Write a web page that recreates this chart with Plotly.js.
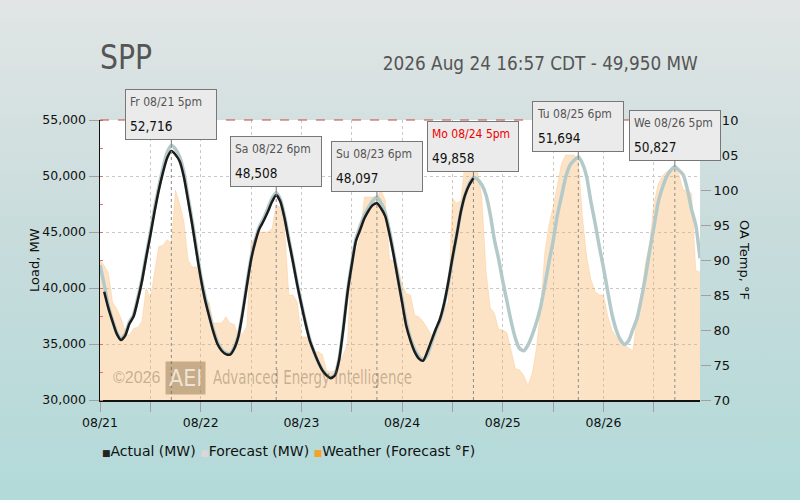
<!DOCTYPE html>
<html>
<head>
<meta charset="utf-8">
<script src="https://cdn.plot.ly/plotly-3.0.1.min.js"></script>
<style>
html,body{margin:0;padding:0;}
body{width:800px;height:500px;background:linear-gradient(to bottom,#e1e5e5 0%,#c9dcdc 45%,#b2dad9 100%);}
#chart{width:800px;height:500px;}
</style>
</head>
<body>
<div id="chart"></div>
<script>
// ---- data (hourly, starting 2026-08-21 00:00) ----
const startHourActual = 1;
const forecastMW = [
42050,40300,38400,37100,36000,35450,35900,36950,37600,39100,
40800,42900,44900,47100,49000,50700,52100,52716,52400,51700,
50300,48100,45900,43500,41100,39300,37700,36300,35200,34500,
34200,34150,34700,35800,37900,40400,42700,44300,45500,46200,
47100,48000,48508,47900,46400,44400,42400,40400,38600,36900,
35400,34300,33400,32700,32250,32000,32300,33700,36500,39700,
42200,44400,45500,46500,47200,47800,48097,47600,46700,45100,
43100,41000,39000,36900,35500,34500,33900,33600,34000,35100,
36200,37100,38500,40400,42600,44700,46800,48300,49300,49858,
49700,49200,48300,46600,44300,42600,40600,38800,37000,35500,
34600,34400,34900,35800,36900,38300,40200,42300,44200,46500,
48200,49900,50950,51400,51694,51100,49900,47700,45800,43700,
41800,39700,37700,36300,35400,34950,35300,36300,37300,39000,
41000,43300,45400,47600,48900,49900,50500,50827,50500,50100,
48800,47000,45600,42650];
const actualMW = [
39670,38200,37000,35900,35350,35750,36800,37450,38900,40600,
42700,44700,46800,48700,50300,51600,52230,51900,51300,49900,
47800,45600,43200,40900,39000,37500,36100,35000,34400,34100,
34050,34600,35700,37800,40200,42500,44100,45300,46000,46800,
47700,48300,47700,46200,44200,42300,40300,38500,36800,35300,
34300,33400,32650,32200,31950,32200,33600,36400,39600,42050,
44200,45200,46200,46900,47400,47560,47100,46400,44800,42900,
40800,38700,36600,35300,34300,33700,33500,34300,35300,36300,
37200,38600,40500,42700,44700,46800,48300,49200,49800];
const weatherF = [
90,89.2,88.1,84,83,81.7,79.8,79.2,80.2,80.4,
81.2,86,84.5,88,91.9,92.1,92.9,92.4,100,98,
95.5,90,89,89,86.5,84,84,81,81,81,
81.9,81,80.8,79.1,79.5,80.5,92.5,93,94,94,
94,94.5,97.9,97.5,94.5,85,85,84,79,79,
79,76.9,76.9,76.5,74.2,74,74.2,75.3,76.5,78,
91.5,91,93.5,99,99,99,99,100,98.5,90,
90,89,86.5,85.2,85,82.1,81.9,81.2,80.3,79.2,
79.4,82,82.7,84,98.8,98.1,98.5,104,104.2,103.6,
102.5,99,88.5,83.2,82.4,80.1,80,79.6,77,74.5,
74.3,73.5,72.1,73.8,77.3,83,91,95,97.6,101,
103.8,105,105,105,104.3,96,90.5,87.2,85.5,85,
85,82,80,79,78.2,77.9,77.5,77,81.8,85,
89.5,92.5,98,100.8,102,102.6,103,103.1,102.2,100,
100,99.5,88.5,88.3];
const peakHours = [17,42,66,89,114,137];
const peakLabels = ['Fr 08/21 5pm','Sa 08/22 6pm','Su 08/23 6pm','Mo 08/24 5pm','Tu 08/25 6pm','We 08/26 5pm'];
const peakLabelColors = ['#555','#555','#555','#ee0000','#555','#555'];
const titleText = 'SPP';
const subtitleText = '2026 Aug 24 16:57 CDT - 49,950 MW';

// ---- helpers ----
function t(h){
  const d = 21 + Math.floor(h/24);
  const hh = h % 24;
  return '2026-08-' + d + ' ' + String(hh).padStart(2,'0') + ':00';
}
const xForecast = forecastMW.map((v,i)=>t(i));
const xActual = actualMW.map((v,i)=>t(i+startHourActual));
const xWeather = weatherF.map((v,i)=>t(i));

const dejavu = '"DejaVu Sans",sans-serif';
const cond = '"DejaVu Sans Condensed","DejaVu Sans",sans-serif';
const libsans = '"Liberation Sans",Arial,sans-serif';

const traces = [
  {x:xWeather, y:weatherF, yaxis:'y', type:'scatter', mode:'lines', fill:'tozeroy',
   fillcolor:'rgba(250,175,90,0.35)', line:{width:0.6,color:'rgba(250,175,90,0.45)'}, hoverinfo:'skip', showlegend:false},
  {x:xForecast, y:forecastMW, yaxis:'y2', type:'scatter', mode:'lines',
   line:{color:'#b4caca', width:3.5, shape:'spline', smoothing:0.6}, showlegend:false},
  {x:xActual, y:actualMW, yaxis:'y2', type:'scatter', mode:'lines',
   line:{color:'#1c1c1c', width:2.5, shape:'spline', smoothing:0.6}, showlegend:false}
];

const shapes = [
  {type:'line', xref:'paper', yref:'paper', x0:0, x1:1, y0:1, y1:1, line:{color:'#c04848', width:1, dash:'dash'}}
];
const annotations = [];
peakHours.forEach((h,i)=>{
  const v = forecastMW[h];
  shapes.push({type:'line', xref:'x', yref:'y2', x0:t(h), x1:t(h), y0:30000, y1:v,
    line:{color:'#8a8a8a', width:1, dash:'dot'}, layer:'above'});
  annotations.push({
    x:t(h), y:v, xref:'x', yref:'y2',
    text:'<span style="color:'+peakLabelColors[i]+';font-size:12px">'+peakLabels[i]+'</span><br><span style="font-size:13.5px">'+v.toLocaleString('en-US')+'</span>',
    showarrow:true, arrowhead:0, arrowwidth:1, arrowcolor:'#777', ax:0, ay:-31,
    align:'left', valign:'middle', width:82, height:41,
    bgcolor:'#ebebeb', bordercolor:'#777', borderwidth:1, borderpad:4,
    font:{family:cond, size:18.5, color:'#111'}
  });
});
// subtitle
annotations.push({xref:'paper', yref:'paper', x:1, y:1.2036, xanchor:'right', yanchor:'middle', align:'right',
  width:318, text:subtitleText, showarrow:false, font:{family:cond, size:20, color:'#555'}});
// axis titles
annotations.push({xref:'paper', yref:'paper', x:1.075, y:0.5, xanchor:'center', yanchor:'middle',
  text:'OA Temp, °F', textangle:90, showarrow:false, font:{family:dejavu, size:13, color:'#111'}});
annotations.push({xref:'paper', yref:'paper', x:-0.11, y:0.5, xanchor:'center', yanchor:'middle',
  text:'Load, MW', textangle:-90, showarrow:false, font:{family:dejavu, size:13, color:'#111'}});
// watermark
annotations.push({xref:'paper', yref:'paper', x:0.0183, y:0.082, xanchor:'left', yanchor:'middle', align:'left',
  text:'©2026', showarrow:false, font:{family:libsans, size:16, color:'rgba(120,100,80,0.42)'}});
annotations.push({xref:'paper', yref:'paper', x:0.108, y:0.080, xanchor:'left', yanchor:'middle',
  text:'AEI', showarrow:false, bgcolor:'rgba(125,95,55,0.42)', borderpad:3,
  font:{family:cond, size:23, color:'rgba(255,250,240,0.72)'}});
annotations.push({xref:'paper', yref:'paper', x:0.185, y:0.082, xanchor:'left', yanchor:'middle', align:'left',
  width:201, text:'Advanced Energy Intelligence', showarrow:false, font:{family:cond, size:19, color:'rgba(120,100,80,0.42)'}});
// legend
annotations.push({xref:'paper', yref:'paper', x:0, y:-0.182, xanchor:'left', yanchor:'middle', align:'left',
  text:'<span style="color:#222;font-size:9px">■</span>Actual (MW) <span style="color:#d8d8d8;font-size:9px">■</span>Forecast (MW) <span style="color:#f5a32a;font-size:9px">■</span>Weather (Forecast °F)',
  showarrow:false, font:{family:dejavu, size:14, color:'#111'}});

const layout = {
  width:800, height:500,
  margin:{l:100, r:100, t:120, b:100, pad:0},
  paper_bgcolor:'rgba(0,0,0,0)', plot_bgcolor:'#ffffff',
  title:{text:titleText, x:0.125, xref:'container', xanchor:'left', y:0.886, yref:'container', yanchor:'middle',
    font:{family:cond, size:34, color:'#555'}},
  showlegend:false,
  xaxis:{type:'date', range:[t(0), t(143)], tick0:t(0), dtick:86400000, tickformat:'%m/%d',
    ticks:'outside', ticklen:10, tickcolor:'#a0a0a0', tickwidth:1,
    showgrid:true, gridcolor:'#c8c8c8', griddash:'dot', gridwidth:1,
    minor:{dtick:43200000, ticks:'outside', ticklen:10, tickcolor:'#a0a0a0', showgrid:true, gridcolor:'#c8c8c8', griddash:'dot'},
    showline:true, linecolor:'#111', linewidth:2, zeroline:false,
    tickfont:{family:dejavu, size:12.5, color:'#111'}},
  yaxis:{range:[70,110], dtick:5, side:'right', showgrid:false, zeroline:false,
    ticks:'outside', ticklen:10, tickcolor:'#a0a0a0', showline:false,
    tickfont:{family:dejavu, size:13, color:'#111'}},
  yaxis2:{range:[30000,55000], dtick:5000, overlaying:'y', side:'left', tickformat:',d',
    ticks:'outside', ticklen:10, tickcolor:'#a0a0a0',
    showgrid:true, gridcolor:'#c8c8c8', griddash:'dot', zeroline:false,
    minor:{dtick:2500, ticks:'inside', ticklen:3, tickcolor:'#e07070', showgrid:false},
    showline:true, linecolor:'#111', linewidth:1.5,
    tickfont:{family:dejavu, size:12.5, color:'#111'}},
  shapes:shapes,
  annotations:annotations
};
// target rendered widths (px) for the condensed-look texts
const squeeze = {'SPP':52, '2026 Aug 24 16:57 CDT - 49,950 MW':315, 'Advanced Energy Intelligence':199};
Plotly.newPlot('chart', traces, layout, {displayModeBar:false, staticPlot:true}).then(gd=>{
  const els = gd.querySelectorAll('text.annotation-text, text.gtitle');
  els.forEach(el=>{
    const key = el.getAttribute('data-unformatted') || el.textContent;
    if(squeeze[key] && el.getComputedTextLength() > squeeze[key]){
      el.setAttribute('textLength', squeeze[key]);
      el.setAttribute('lengthAdjust', 'spacingAndGlyphs');
    }
  });
});
</script>
</body>
</html>
